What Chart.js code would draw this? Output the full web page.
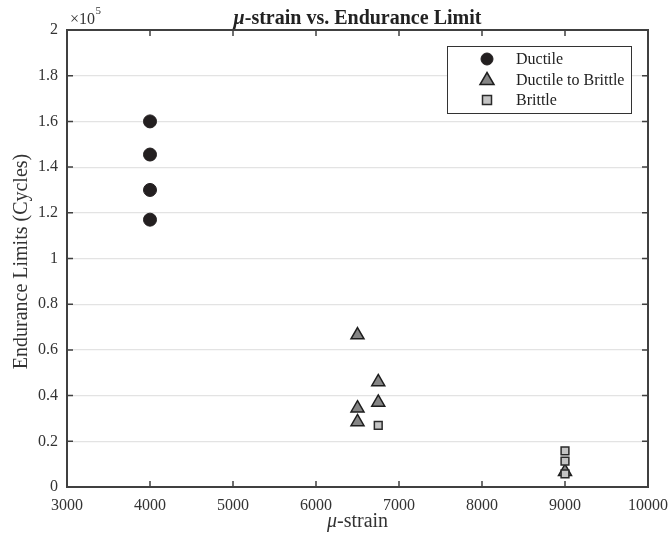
<!DOCTYPE html>
<html><head><meta charset="utf-8">
<script src="https://cdn.jsdelivr.net/npm/chart.js"></script>
<style>html,body{margin:0;padding:0;background:#fff}#wrap{width:670px;height:542px}</style>
</head><body><div id="wrap"><canvas id="c" width="670" height="542"></canvas></div>
<script>
const seriesNames = ["Ductile", "Ductile to Brittle", "Brittle"];
const ductileX = [4000, 4000, 4000, 4000];
const ductileY = [160000, 145500, 130000, 117000];
const transX = [6500, 6750, 6750, 6500, 6500, 9000];
const transY = [66500, 46000, 37000, 34500, 28500, 6700];
const brittleX = [6750, 9000, 9000, 9000];
const brittleY = [27000, 15800, 11300, 5700];
const xTicks = [3000, 4000, 5000, 6000, 7000, 8000, 9000, 10000];
const yTickLabels = ["0","0.2","0.4","0.6","0.8","1","1.2","1.4","1.6","1.8","2"];

const pts = (xs, ys) => xs.map((x, i) => ({x, y: ys[i]}));
const FONT = "'Liberation Serif', 'Times New Roman', serif";
const AX = '#404040';

function drawMixed(ctx, parts, cx, cy, size, bold) {
  let total = 0;
  parts.forEach(p => { ctx.font = (p.it ? 'italic ' : '') + (bold ? 'bold ' : '') + size + 'px ' + FONT; p.w = ctx.measureText(p.t).width; total += p.w; });
  let x = cx - total / 2;
  ctx.textBaseline = 'alphabetic'; ctx.textAlign = 'left';
  parts.forEach(p => { ctx.font = (p.it ? 'italic ' : '') + (bold ? 'bold ' : '') + size + 'px ' + FONT; ctx.fillText(p.t, x, cy); x += p.w; });
}

const deco = {
  id: 'deco',
  afterDraw(chart) {
    const ctx = chart.ctx, a = chart.chartArea, xs = chart.scales.x, ys = chart.scales.y;
    ctx.save();
    // frame
    ctx.strokeStyle = AX; ctx.lineWidth = 2;
    ctx.strokeRect(a.left, a.top, a.right - a.left, a.bottom - a.top);
    // ticks
    ctx.lineWidth = 1.5;
    xTicks.forEach(v => {
      const px = xs.getPixelForValue(v);
      ctx.beginPath(); ctx.moveTo(px, a.bottom); ctx.lineTo(px, a.bottom - 6);
      ctx.moveTo(px, a.top); ctx.lineTo(px, a.top + 6); ctx.stroke();
    });
    yTickLabels.forEach((l, i) => {
      const py = ys.getPixelForValue(i * 20000);
      ctx.beginPath(); ctx.moveTo(a.left, py); ctx.lineTo(a.left + 6, py);
      ctx.moveTo(a.right, py); ctx.lineTo(a.right - 6, py); ctx.stroke();
    });
    ctx.fillStyle = '#222';
    // title
    drawMixed(ctx, [{t:'\u03bc', it:true}, {t:'-strain vs. Endurance Limit'}], (a.left + a.right) / 2, 24, 20, true);
    // x title
    ctx.fillStyle = '#333';
    drawMixed(ctx, [{t:'\u03bc', it:true}, {t:'-strain'}], (a.left + a.right) / 2, 527, 20, false);
    // y title
    ctx.save(); ctx.translate(22, (a.top + a.bottom) / 2 + 3); ctx.rotate(-Math.PI / 2);
    ctx.font = '20px ' + FONT; ctx.textAlign = 'center'; ctx.textBaseline = 'middle';
    ctx.fillText('Endurance Limits (Cycles)', 0, 0); ctx.restore();
    // exponent
    ctx.font = '16px ' + FONT; ctx.textAlign = 'left'; ctx.textBaseline = 'alphabetic';
    ctx.fillText('\u00d710', 70, 24);
    const w = ctx.measureText('\u00d710').width;
    ctx.font = '11px ' + FONT; ctx.fillText('5', 70 + w + 0.5, 14);
    // legend
    const lx = 447, ly = 46, lw = 184, lh = 67;
    ctx.fillStyle = '#fff'; ctx.fillRect(lx, ly, lw, lh);
    ctx.strokeStyle = '#333'; ctx.lineWidth = 1; ctx.strokeRect(lx + 0.5, ly + 0.5, lw, lh);
    chart.data.datasets.forEach((ds, i) => {
      const cy = 59 + i * 20.5, mx = 487;
      ctx.fillStyle = ds.backgroundColor; ctx.strokeStyle = ds.borderColor; ctx.lineWidth = ds.borderWidth;
      ctx.beginPath();
      if (ds.pointStyle === 'circle') { ctx.arc(mx, cy, 6, 0, Math.PI * 2); }
      else if (ds.pointStyle === 'triangle') { ctx.moveTo(mx, cy - 7); ctx.lineTo(mx + 7, cy + 5); ctx.lineTo(mx - 7, cy + 5); ctx.closePath(); }
      else { ctx.rect(mx - 4.5, cy - 4.5, 9, 9); }
      ctx.fill(); ctx.stroke();
      ctx.fillStyle = '#222'; ctx.font = '16px ' + FONT; ctx.textBaseline = 'middle';
      ctx.fillText(ds.label, 516, cy + 1);
    });
    ctx.restore();
  }
};

new Chart(document.getElementById('c'), {
  type: 'scatter',
  data: {
    datasets: [
      { label: seriesNames[0], data: pts(ductileX, ductileY), pointStyle: 'circle', pointRadius: 6.5, backgroundColor: '#231f20', borderColor: '#231f20', borderWidth: 1, order: 3 },
      { label: seriesNames[1], data: pts(transX, transY), pointStyle: 'triangle', pointRadius: 7.5, backgroundColor: '#858585', borderColor: '#1e1e1e', borderWidth: 1.5, order: 2 },
      { label: seriesNames[2], data: pts(brittleX, brittleY), pointStyle: 'rect', pointRadius: 5.5, backgroundColor: '#c4c4c4', borderColor: '#2a2a2a', borderWidth: 1.5, order: 1 }
    ]
  },
  options: {
    responsive: false, animation: false, devicePixelRatio: 1,
    layout: { padding: { top: 30, right: 22, left: 0, bottom: 0 } },
    plugins: { legend: { display: false }, tooltip: { enabled: false }, title: { display: false } },
    scales: {
      x: {
        type: 'linear', min: 3000, max: 10000,
        afterBuildTicks: s => { s.ticks = xTicks.map(v => ({value: v})); },
        afterFit: s => { s.height = 55; s.paddingLeft = 0; s.paddingRight = 0; },
        grid: { display: false, drawTicks: false },
        border: { display: false },
        ticks: { color: '#333', font: { family: FONT, size: 16 }, padding: 9, maxRotation: 0, callback: v => String(v) }
      },
      y: {
        min: 0, max: 200000,
        afterBuildTicks: s => { s.ticks = yTickLabels.map((l, i) => ({value: i * 20000})); },
        afterFit: s => { s.width = 67; s.paddingTop = 0; s.paddingBottom = 0; },
        grid: { color: '#e3e3e3', lineWidth: 1.2, drawTicks: false },
        border: { display: false },
        ticks: { color: '#333', font: { family: FONT, size: 16 }, padding: 9, callback: (v) => yTickLabels[Math.round(v / 20000)] }
      }
    }
  },
  plugins: [deco]
});
</script></body></html>
